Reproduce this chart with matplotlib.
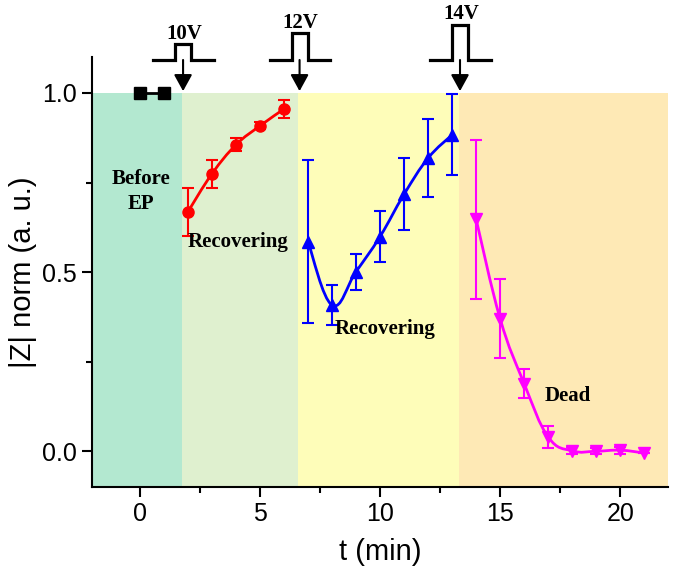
import numpy as np
import matplotlib
matplotlib.use('Agg')
import matplotlib.pyplot as plt
from matplotlib.path import Path
from matplotlib.patches import PathPatch

plt.rcParams['font.family'] = ['Liberation Sans', 'DejaVu Sans']

# data
t_before = [0, 1]
z_before = [1.0, 1.0]

t_10v = [2, 3, 4, 5, 6]
z_10v = [0.668, 0.774, 0.855, 0.908, 0.955]
e_10v = [0.067, 0.04, 0.018, 0.01, 0.025]

t_12v = [7, 8, 9, 10, 11, 12, 13]
z_12v = [0.585, 0.408, 0.501, 0.599, 0.717, 0.818, 0.883]
e_12v = [0.227, 0.055, 0.05, 0.072, 0.1, 0.108, 0.113]

t_14v = [14, 15, 16, 17, 18, 19, 20, 21]
z_14v = [0.648, 0.37, 0.189, 0.04, 0.001, 0.0, 0.003, -0.005]
e_14v = [0.222, 0.11, 0.041, 0.03, 0.01, 0.008, 0.01, 0.0]

# phase regions (x edges) and colours
region_edges = [-2, 1.75, 6.6, 13.3, 22]
region_colors = ['#b3e8d0', '#dff0cf', '#fefdb9', '#fee9b5']

# pulse labels and arrow positions
pulse_labels = ['10V', '12V', '14V']
pulse_x = [1.8, 6.65, 13.33]


def smooth_path(x, y, k=0.2):
    # Catmull-Rom style bezier through the data points
    x = np.asarray(x, float)
    y = np.asarray(y, float)
    verts = [(x[0], y[0])]
    codes = [Path.MOVETO]
    n = len(x)
    for i in range(n - 1):
        i0 = max(i - 1, 0)
        i3 = min(i + 2, n - 1)
        c1 = (x[i] + (x[i + 1] - x[i0]) * k, y[i] + (y[i + 1] - y[i0]) * k)
        c2 = (x[i + 1] - (x[i3] - x[i]) * k, y[i + 1] - (y[i3] - y[i]) * k)
        verts += [c1, c2, (x[i + 1], y[i + 1])]
        codes += [Path.CURVE4] * 3
    return Path(verts, codes)


fig = plt.figure(figsize=(6.75, 5.71), dpi=100)
ax = fig.add_axes([0.136, 0.147, 0.854, 0.753])

for i, c in enumerate(region_colors):
    ax.fill_between([region_edges[i], region_edges[i + 1]], -0.1, 1.0,
                    color=c, lw=0, zorder=0)

# series
ax.plot(t_before, z_before, 's-', color='black', ms=8, lw=2, zorder=3)

for t, z, e, col, mk in [(t_10v, z_10v, e_10v, 'red', 'o'),
                         (t_12v, z_12v, e_12v, 'blue', '^'),
                         (t_14v, z_14v, e_14v, 'magenta', 'v')]:
    ax.add_patch(PathPatch(smooth_path(t, z), fill=False, edgecolor=col,
                           lw=2, zorder=3))
    ax.errorbar(t, z, yerr=e, fmt=mk, color=col, ms=8, elinewidth=1.5,
                capsize=4, capthick=1.5, zorder=4)

# phase annotations
txt = dict(family=['Liberation Serif', 'DejaVu Serif'], fontweight='bold',
           fontsize=15, ha='center', va='center', zorder=5)
ax.text(0.05, 0.725, 'Before\nEP', linespacing=1.3, **txt)
ax.text(4.1, 0.585, 'Recovering', **txt)
ax.text(10.2, 0.34, 'Recovering', **txt)
ax.text(17.8, 0.155, 'Dead', **txt)

# voltage pulses above the plot
pulse_tops = [1.137, 1.167, 1.19]
label_y = [1.164, 1.195, 1.22]
for lab, x0, top, ly in zip(pulse_labels, pulse_x, pulse_tops, label_y):
    px = [x0 - 1.25, x0 - 0.33, x0 - 0.33, x0 + 0.35, x0 + 0.35, x0 + 1.27]
    py = [1.092, 1.092, top, top, 1.092, 1.092]
    ax.plot(px, py, color='black', lw=2.3, clip_on=False, zorder=5,
            solid_joinstyle='miter')
    ax.annotate('', xy=(x0, 1.005), xytext=(x0, 1.092),
                arrowprops=dict(arrowstyle='-|>,head_width=0.55,head_length=1.0',
                                mutation_scale=10, color='black', lw=1.5,
                                shrinkA=0, shrinkB=0),
                annotation_clip=False)
    ax.text(x0 + 0.05, ly, lab, family=['Liberation Serif', 'DejaVu Serif'],
            fontweight='bold', fontsize=15, ha='center', va='center')

ax.set_xlim(-2, 22)
ax.set_ylim(-0.1, 1.1)
ax.set_xticks([0, 5, 10, 15, 20])
ax.set_xticks([2.5, 7.5, 12.5, 17.5], minor=True)
ax.set_yticks([0.0, 0.5, 1.0])
ax.set_yticks([0.25, 0.75], minor=True)
ax.set_yticklabels(['0.0', '0.5', '1.0'])
ax.tick_params(which='major', direction='out', length=7, width=1.5, labelsize=18)
ax.tick_params(which='minor', direction='out', length=4, width=1.5)
for s in ['top', 'right']:
    ax.spines[s].set_visible(False)
for s in ['left', 'bottom']:
    ax.spines[s].set_linewidth(1.5)

ax.set_xlabel('t (min)', fontsize=21, labelpad=9)
ax.set_ylabel('|Z| norm (a. u.)', fontsize=21, labelpad=4)

fig.savefig('out.png', dpi=100)
